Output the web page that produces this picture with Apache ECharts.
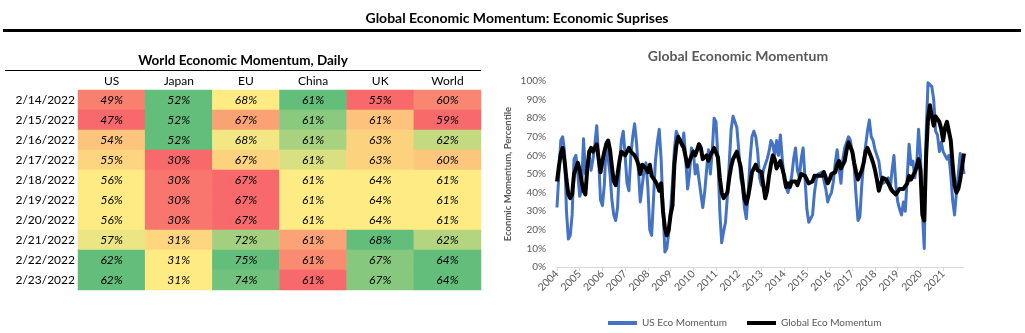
<!DOCTYPE html>
<html><head><meta charset="utf-8">
<script src="https://cdn.jsdelivr.net/npm/echarts@6/dist/echarts.min.js"></script>
<style>html,body{margin:0;padding:0;background:#fff}#c{width:1025px;height:333px}</style>
</head><body><div id="c"></div>
<script>
// ---------- Table data ----------
const countries = ['US', 'Japan', 'EU', 'China', 'UK', 'World'];
const dates = ['2/14/2022','2/15/2022','2/16/2022','2/17/2022','2/18/2022','2/19/2022','2/20/2022','2/21/2022','2/22/2022','2/23/2022'];
const usDaily    = [49, 47, 54, 55, 56, 56, 56, 57, 62, 62];
const japanDaily = [52, 52, 52, 30, 30, 30, 30, 31, 31, 31];
const euDaily    = [68, 67, 68, 67, 67, 67, 67, 72, 75, 74];
const chinaDaily = [61, 61, 61, 61, 61, 61, 61, 61, 61, 61];
const ukDaily    = [55, 61, 63, 63, 64, 64, 64, 68, 67, 67];
const worldDaily = [60, 59, 62, 60, 61, 61, 61, 62, 64, 64];

// conditional-format colours of the cells (style, per column)
const usColors    = ['#F97F6F','#F8696B','#FCC47C','#FDD47F','#FFEB84','#FFEB84','#FFEB84','#EBE583','#63BE7B','#63BE7B'];
const japanColors = ['#63BE7B','#63BE7B','#63BE7B','#F8696B','#F8766D','#F8766D','#F8766D','#FED680','#FFEB84','#FFEB84'];
const euColors    = ['#FFEB84','#FBA275','#F2E783','#FDD27F','#F8696B','#F8696B','#F8696B','#A3D07F','#63BE7B','#70C27C'];
const chinaColors = ['#63BE7B','#8ACA7E','#A8D27F','#D9E082','#FFEB84','#FFEB84','#FFEB84','#FBA276','#F98B71','#F8696B'];
const ukColors    = ['#F8696B','#FDC37D','#FDD27F','#FDD27F','#FFEB84','#FFEB84','#FFEB84','#63BE7B','#86C87E','#86C87E'];
const worldColors = ['#F98670','#F8696B','#C3DA81','#FDC67D','#FFEB84','#FFEB84','#FFEB84','#B3D580','#63BE7B','#63BE7B'];

// ---------- Line chart data (monthly, Jan 2004 .. Dec 2021, percentile) ----------
const startYear = 2004;
const usMomentum = [
  32,50,68,70,62,30,15,17,28,58,60,50,
  38,42,69,50,53,60,52,58,66,76,58,36,
  33,44,67,66,50,36,28,25,32,55,68,73,
  60,45,41,60,70,77,67,52,35,36,52,56,
  43,20,17,37,57,67,74,58,32,8,10,18,
  31,45,63,73,72,68,65,72,58,42,50,64,
  62,50,55,47,46,32,40,52,63,50,62,80,
  78,58,30,13,19,24,38,56,74,81,80,75,
  63,48,43,32,26,40,58,70,73,70,62,48,
  44,52,53,58,62,68,66,60,68,60,71,58,
  47,43,40,44,49,58,64,52,48,58,64,48,
  31,24,26,28,40,47,50,49,51,52,42,35,
  38,40,46,56,63,53,45,58,64,64,70,68,
  69,54,38,25,27,44,57,65,73,79,70,68,
  63,64,57,49,45,44,46,48,42,52,60,44,
  35,31,28,35,30,48,66,55,57,48,55,74,
  60,30,10,72,99,100,97,90,73,71,62,67,
  62,62,58,60,50,36,28,40,50,61,57,50
];
const globalMomentum = [
  46,54,61,64,57,47,39,37,39,50,53,56,
  52,46,41,39,53,62,64,62,63,66,58,51,
  57,62,66,68,63,54,46,44,50,57,62,63,
  60,60,64,62,63,60,58,55,50,55,56,53,
  51,55,49,50,46,44,41,45,30,21,17,20,
  28,33,55,65,70,68,68,64,59,54,57,58,
  62,60,63,66,64,58,58,60,57,60,62,64,
  63,59,48,40,37,36,40,48,54,58,60,62,
  58,54,46,37,34,38,44,51,53,55,52,51,
  51,44,37,41,49,55,60,58,53,53,57,56,
  49,43,45,43,46,46,46,44,47,50,50,49,
  48,45,44,46,49,50,49,50,49,51,52,45,
  47,50,49,51,55,57,53,52,57,63,67,66,
  62,56,51,47,48,52,56,62,64,63,59,56,
  52,47,41,42,48,49,47,45,44,41,42,39,
  40,42,41,42,42,45,49,47,47,51,54,58,
  52,28,25,60,80,87,81,76,81,80,78,74,
  68,75,78,79,68,55,44,40,42,47,54,61
];

const FONT = 'Lato';
const tableColumns = [usDaily, japanDaily, euDaily, chinaDaily, ukDaily, worldDaily];
const colorColumns = [usColors, japanColors, euColors, chinaColors, ukColors, worldColors];
const heatData = [];
tableColumns.forEach((col, c) => col.forEach((v, r) => {
  heatData.push({ value: [c, r, v], itemStyle: { color: colorColumns[c][r] } });
}));
const toXY = arr => arr.map((v, i) => [startYear + i / 12, v]);
const lastX = startYear + (usMomentum.length - 1) / 12;

const chart = echarts.init(document.getElementById('c'), null, { renderer: 'canvas' });
chart.setOption({
  animation: false,
  backgroundColor: '#fff',
  textStyle: { fontFamily: FONT },
  graphic: [
    { type: 'text', x: 517, y: 18, style: { text: 'Global Economic Momentum: Economic Suprises', font: 'bold 14px ' + FONT, fill: '#000', align: 'center', verticalAlign: 'middle' } },
    { type: 'line', shape: { x1: 3, y1: 30.5, x2: 1021, y2: 30.5 }, style: { stroke: '#000', lineWidth: 3 } },
    { type: 'text', x: 243, y: 61, style: { text: 'World Economic Momentum, Daily', font: 'bold 13.5px ' + FONT, fill: '#000', align: 'center', verticalAlign: 'middle' } },
    { type: 'line', shape: { x1: 5, y1: 70.5, x2: 481, y2: 70.5 }, style: { stroke: '#000', lineWidth: 1 } },
    { type: 'text', x: 738, y: 56, style: { text: 'Global Economic Momentum', font: 'bold 14px ' + FONT, fill: '#595959', align: 'center', verticalAlign: 'middle' } }
  ],
  legend: {
    left: 603, top: 313,
    itemWidth: 29, itemHeight: 4, itemGap: 20,
    icon: 'rect',
    textStyle: { color: '#595959', fontSize: 10, fontFamily: FONT },
    data: ['US Eco Momentum', 'Global Eco Momentum']
  },
  grid: [
    { left: 557, right: 61, top: 81, bottom: 66 },
    { left: 78, right: 544, top: 90, height: 200 }
  ],
  xAxis: [
    {
      gridIndex: 0, type: 'value', min: startYear, max: lastX, interval: 1,
      axisLine: { show: true, lineStyle: { color: '#D9D9D9', width: 1 } },
      axisTick: { show: true, length: 4, lineStyle: { color: '#D9D9D9' } },
      splitLine: { show: false },
      axisLabel: {
        rotate: 45, margin: 5, color: '#595959', fontSize: 10.5, fontFamily: FONT,
        showMaxLabel: false,
        formatter: v => (Math.abs(v - Math.round(v)) < 1e-6 ? String(Math.round(v)) : '')
      }
    },
    {
      gridIndex: 1, type: 'category', data: countries, position: 'top',
      axisLine: { show: false }, axisTick: { show: false }, splitLine: { show: false },
      axisLabel: { color: '#000', fontSize: 12, fontFamily: FONT, margin: 3 }
    }
  ],
  yAxis: [
    {
      gridIndex: 0, type: 'value', min: 0, max: 100, interval: 10,
      name: 'Econmic Momentum, Percentile', nameLocation: 'middle', nameGap: 44,
      nameTextStyle: { color: '#595959', fontSize: 9.5, fontWeight: 'bold', fontFamily: FONT },
      axisLine: { show: false }, axisTick: { show: false }, splitLine: { show: false },
      axisLabel: { formatter: '{value}%', color: '#595959', fontSize: 10, fontFamily: FONT, margin: 11 }
    },
    {
      gridIndex: 1, type: 'category', data: dates, inverse: true,
      axisLine: { show: false }, axisTick: { show: false }, splitLine: { show: false },
      axisLabel: { color: '#000', fontSize: 12, fontFamily: FONT, margin: 3 }
    }
  ],
  series: [
    {
      name: 'US Eco Momentum', type: 'line', xAxisIndex: 0, yAxisIndex: 0,
      data: toXY(usMomentum), symbol: 'none', color: '#4472C4',
      lineStyle: { width: 3, color: '#4472C4', join: 'round' }
    },
    {
      name: 'Global Eco Momentum', type: 'line', xAxisIndex: 0, yAxisIndex: 0,
      data: toXY(globalMomentum), symbol: 'none', color: '#000',
      lineStyle: { width: 4, color: '#000', join: 'round' }
    },
    {
      type: 'heatmap', xAxisIndex: 1, yAxisIndex: 1, data: heatData,
      itemStyle: { borderWidth: 0 },
      emphasis: { disabled: true },
      label: {
        show: true, formatter: p => p.value[2] + '%',
        color: '#000', fontSize: 12, fontStyle: 'italic', fontFamily: FONT
      }
    }
  ]
});
</script>
</body></html>
